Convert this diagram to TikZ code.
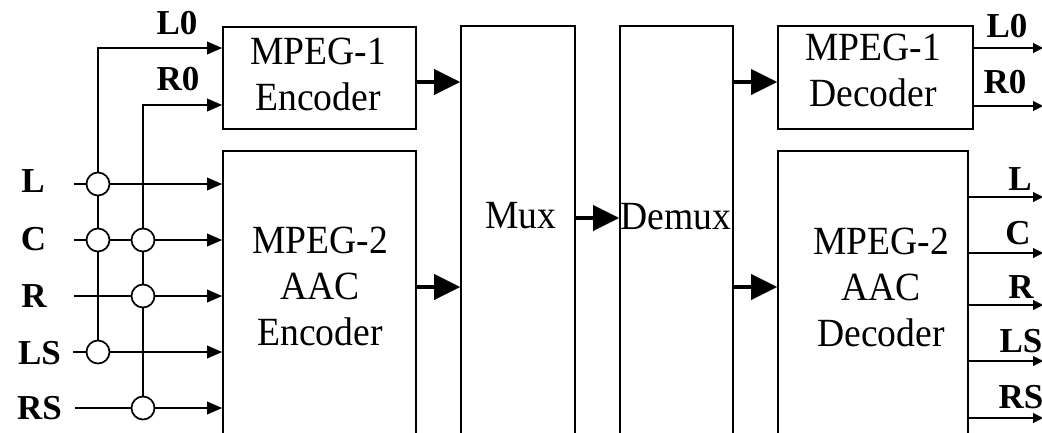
\documentclass[tikz,border=0pt]{standalone}
\usepackage{fontspec}
\setmainfont{Liberation Serif}
\newfontfamily\blockfont[FakeStretch=0.94]{Liberation Serif}
\usetikzlibrary{arrows.meta,calc}

\begin{document}
\begin{tikzpicture}[x=1pt,y=-1pt,
  wire/.style={line width=1.7pt},
  arr/.style={wire,-{Triangle[length=15pt,width=13pt,line width=0.3pt]}},
  outarr/.style={wire,-{Triangle[length=10pt,width=10pt,line width=0.3pt]}},
  bus/.style={line width=4.5pt,-{Triangle[length=26pt,width=26pt,line width=0.3pt]}},
  blk/.style={draw,line width=1.7pt,inner sep=0pt,anchor=north west},
  tag/.style={inner sep=0pt,font=\fontsize{35}{40}\selectfont\bfseries},
  txt/.style={inner sep=0pt,align=center,font=\blockfont\fontsize{40}{46}\selectfont},
  junc/.style={draw,circle,fill=white,line width=1.7pt,minimum size=23pt,inner sep=0pt},
]
\useasboundingbox (0,0) rectangle (1042,432);
\clip (0,0) rectangle (1042,432);

% processing blocks (the tall ones run past the lower edge)
\node[blk,minimum width=193pt,minimum height=102pt] (enc1) at (222,26) {};
\node[blk,minimum width=193pt,minimum height=320pt] (enc2) at (222,150) {};
\node[blk,minimum width=114pt,minimum height=440pt] (mux) at (460,25) {};
\node[blk,minimum width=113pt,minimum height=440pt] (demux) at (619,25) {};
\node[blk,minimum width=195pt,minimum height=103pt] (dec1) at (777,25) {};
\node[blk,minimum width=190pt,minimum height=320pt] (dec2) at (777,150) {};

% block captions
\node[txt] (enc1-txt) at (318,74) {MPEG-1\\Encoder};
\node[txt] (enc2-txt) at (320,286) {MPEG-2\\AAC\\Encoder};
\node[txt] (mux-txt) at (521,216) {Mux};
\node[txt] (demux-txt) at (676,216.5) {Demux};
\node[txt] (dec1-txt) at (873,70) {MPEG-1\\Decoder};
\node[txt] (dec2-txt) at (881,287) {MPEG-2\\AAC\\Decoder};

% channel names on the input side
\node[tag] (in-L)  at (33,181) {L};
\node[tag] (in-C)  at (33.5,239.5) {C};
\node[tag] (in-R)  at (34,296) {R};
\node[tag] (in-LS) at (39.5,353) {LS};
\node[tag] (in-RS) at (39.5,408) {RS};
\node[tag] (in-L0) at (177,23.5) {L0};
\node[tag] (in-R0) at (178,79.5) {R0};

% channel names on the output side
\node[tag] (out-L0) at (1007,26) {L0};
\node[tag] (out-R0) at (1005,82.5) {R0};
\node[tag] (out-L)  at (1020,179) {L};
\node[tag] (out-C)  at (1018,233) {C};
\node[tag] (out-R)  at (1021,287) {R};
\node[tag] (out-LS) at (1021,341) {LS};
\node[tag] (out-RS) at (1021,397) {RS};

% line starts, ports and free ends
\coordinate (inL)  at (74,184);
\coordinate (inC)  at (74,240);
\coordinate (inR)  at (74,296);
\coordinate (inLS) at (73,352);
\coordinate (inRS) at (75,408);
\coordinate (enc1-inL) at (222,48);
\coordinate (enc1-inR) at (222,105);
\coordinate (busT) at (0,82);
\coordinate (busM) at (0,218);
\coordinate (busB) at (0,287);
\coordinate (oL0) at (1043,48);
\coordinate (oR0) at (1043,106);
\coordinate (oL)  at (1043,197);
\coordinate (oC)  at (1043,253);
\coordinate (oR)  at (1043,305);
\coordinate (oLS) at (1043,361);
\coordinate (oRS) at (1043,418);

% downmix junctions
\node[junc] (jL)  at (98,184) {};
\node[junc] (jC1) at (98,240) {};
\node[junc] (jC2) at (143,240) {};
\node[junc] (jR)  at (143,296) {};
\node[junc] (jLS) at (98,352) {};
\node[junc] (jRS) at (143,408) {};

% input channels into the AAC encoder
\draw[wire] (inL) -- (jL);
\draw[arr] (jL) -- (jL -| enc2.west);
\draw[wire] (inC) -- (jC1) -- (jC2);
\draw[arr] (jC2) -- (jC2 -| enc2.west);
\draw[wire] (inR) -- (jR);
\draw[arr] (jR) -- (jR -| enc2.west);
\draw[wire] (inLS) -- (jLS);
\draw[arr] (jLS) -- (jLS -| enc2.west);
\draw[wire] (inRS) -- (jRS);
\draw[arr] (jRS) -- (jRS -| enc2.west);

% stereo downmix into the MPEG-1 encoder
\draw[wire] (jL) -- (jC1) -- (jLS);
\draw[wire] (jC2) -- (jR) -- (jRS);
\draw[arr] (jL) |- (enc1-inL);
\draw[arr] (jC2) |- (enc1-inR);

% bit streams
\draw[bus] (enc1.east |- busT) -- (mux.west |- busT);
\draw[bus] (enc2.east |- busB) -- (mux.west |- busB);
\draw[bus] (mux.east |- busM) -- (demux.west |- busM);
\draw[bus] (demux.east |- busT) -- (dec1.west |- busT);
\draw[bus] (demux.east |- busB) -- (dec2.west |- busB);

% decoded outputs
\draw[outarr] (dec1.east |- oL0) -- (oL0);
\draw[outarr] (dec1.east |- oR0) -- (oR0);
\draw[outarr] (dec2.east |- oL) -- (oL);
\draw[outarr] (dec2.east |- oC) -- (oC);
\draw[outarr] (dec2.east |- oR) -- (oR);
\draw[outarr] (dec2.east |- oLS) -- (oLS);
\draw[outarr] (dec2.east |- oRS) -- (oRS);
\end{tikzpicture}
\end{document}
